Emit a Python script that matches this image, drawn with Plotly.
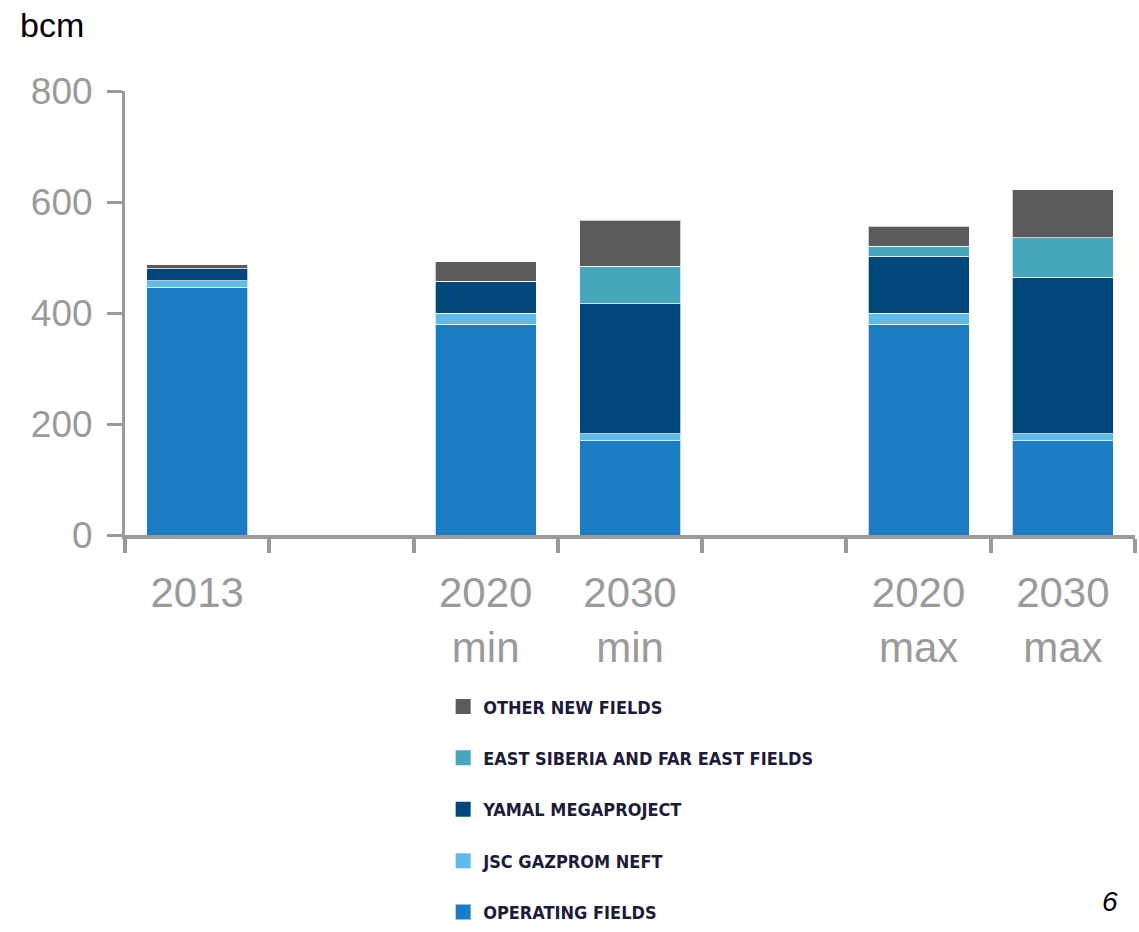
import plotly.graph_objects as go

# Categories (blank slots keep the gaps between the groups)
categories = ["2013", " ", "2020<br>min", "2030<br>min", "  ", "2020<br>max", "2030<br>max"]

# Gas production by source, bcm (None = no bar in that slot)
operating_fields = [446, None, 380, 170, None, 380, 170]
jsc_gazprom_neft = [12, None, 20, 12, None, 20, 12]
yamal_megaproject = [22, None, 57, 235, None, 102, 282]
east_siberia_far_east = [0, None, 0, 67, None, 18, 72]
other_new_fields = [7, None, 35, 83, None, 36, 86]

series = [
    ("OPERATING FIELDS", operating_fields, "#1b7cc3"),
    ("JSC GAZPROM NEFT", jsc_gazprom_neft, "#5fbbea"),
    ("YAMAL MEGAPROJECT", yamal_megaproject, "#02477b"),
    ("EAST SIBERIA AND FAR EAST FIELDS", east_siberia_far_east, "#46a6bc"),
    ("OTHER NEW FIELDS", other_new_fields, "#5b5b5b"),
]

fig = go.Figure()
n = len(series)
for i, (name, values, color) in enumerate(series):
    fig.add_trace(go.Bar(
        x=categories, y=values, name=name, width=0.7,
        marker=dict(color=color, line=dict(color="rgba(255,255,255,0.7)", width=1)),
        showlegend=False,
    ))
    # legend entry with a larger square swatch; top series listed first
    fig.add_trace(go.Scatter(
        x=[None], y=[None], mode="markers", name=name,
        marker=dict(symbol="square", size=15, color=color, line=dict(width=0)),
        legendgroup=f"g{i}", legendrank=n - i, showlegend=True,
    ))

axis_gray = "#999999"
tick_gray = "#9a9a9a"

fig.update_layout(
    barmode="stack",
    width=1139, height=932,
    margin=dict(l=125, r=4, t=91, b=396),
    paper_bgcolor="white", plot_bgcolor="white",
    xaxis=dict(
        type="category", categoryorder="array", categoryarray=categories,
        range=[-0.5, 6.5],
        showline=True, linecolor=axis_gray, linewidth=4,
        ticks="outside", tickson="boundaries", ticklen=14, tickwidth=4, tickcolor=axis_gray,
        showgrid=False,
        tickfont=dict(family="Liberation Sans, Arial, sans-serif", size=42, color=tick_gray),
        ticklabelstandoff=18,
    ),
    yaxis=dict(
        range=[0, 800], tickvals=[0, 200, 400, 600, 800],
        showline=True, linecolor=axis_gray, linewidth=3,
        ticks="outside", ticklen=15, tickwidth=3, tickcolor=axis_gray,
        showgrid=False, zeroline=False,
        tickfont=dict(family="Liberation Sans, Arial, sans-serif", size=37, color=tick_gray),
        ticklabelstandoff=7,
    ),
    legend=dict(
        x=0.315, xanchor="left", y=-0.886, yanchor="bottom",
        traceorder="grouped", tracegroupgap=25,
        font=dict(family="DejaVu Sans Condensed, Liberation Sans Narrow, sans-serif",
                  size=18, color="#1c1c3a", weight="bold"),
        bgcolor="rgba(0,0,0,0)", itemsizing="trace",
    ),
    annotations=[
        dict(text="bcm", xref="paper", yref="paper", x=-0.106, y=1.148, xanchor="left", yanchor="middle",
             showarrow=False, font=dict(family="Liberation Sans, Arial, sans-serif", size=34, color="black")),
        dict(text="<i>6</i>", xref="paper", yref="paper", x=0.985, y=-0.825, xanchor="right", yanchor="middle",
             showarrow=False, font=dict(family="Liberation Sans, Arial, sans-serif", size=28, color="black")),
    ],
)

fig.write_html("out.html")
